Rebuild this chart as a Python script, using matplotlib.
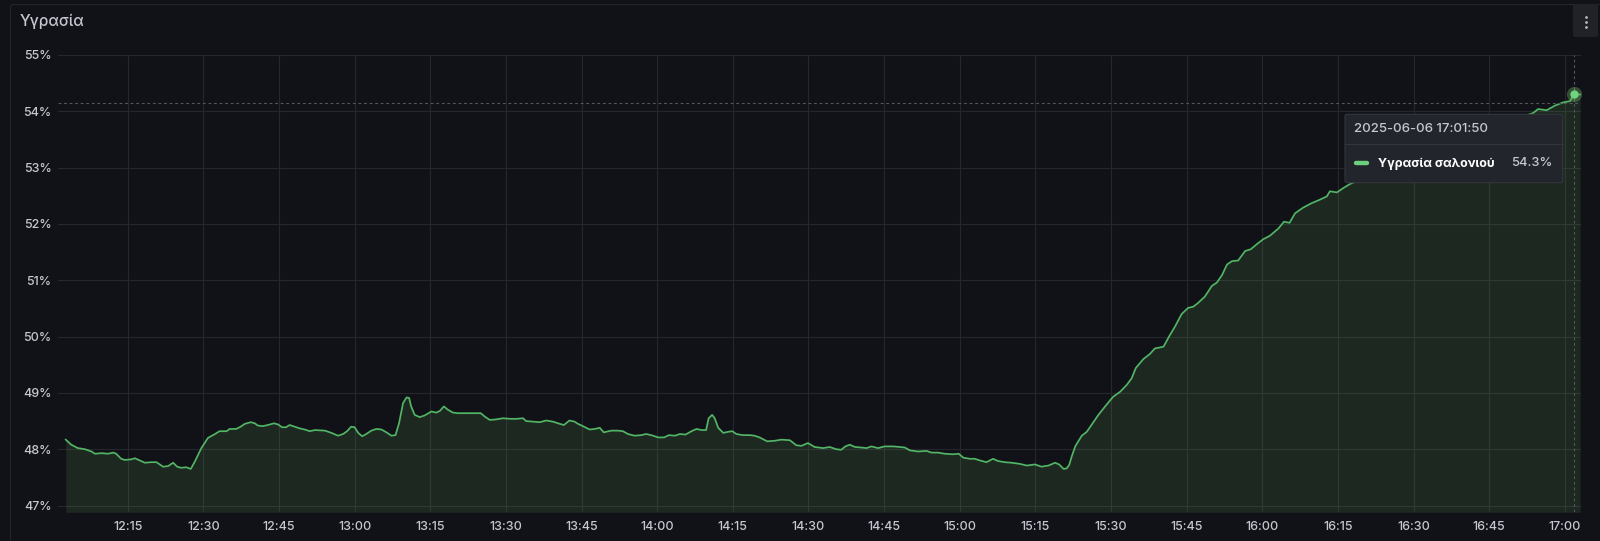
import numpy as np
import pandas as pd
import matplotlib
matplotlib.use("Agg")
import matplotlib.pyplot as plt
import matplotlib.dates as mdates
from matplotlib.ticker import MultipleLocator, FuncFormatter
from matplotlib.patches import FancyBboxPatch

plt.rcParams['font.family'] = ['Inter', 'DejaVu Sans']

# INPUT DATA
panel_title = "Υγρασία"
series_name = "Υγρασία σαλονιού"
day = "2025-06-06"
hover_time = "17:01:50"
hover_value = 54.3
cursor_value = 54.15  # y position of the mouse crosshair

# minutes after 12:00 and relative humidity [%]
minutes = [2.7, 3.8, 5.1, 6.5, 7.8, 8.5, 9.8, 11.1, 12.1, 12.7, 13.7, 14.4, 15.7, 16.4, 17.4, 18.4,
           19.7, 20.7, 22.0, 23.0, 24.0, 24.8, 25.6, 26.6, 27.5, 28.3, 29.6, 30.9, 32.3, 33.2, 34.6,
           35.2, 36.5, 37.4, 38.2, 39.4, 40.2, 40.8, 41.8, 42.8, 44.0, 44.8, 45.6, 46.4, 47.1, 48.1,
           49.1, 50.1, 51.1, 52.1, 54.1, 55.4, 56.7, 57.7, 58.5, 59.3, 60.0, 60.7, 61.5, 62.3, 63.3,
           64.3, 65.3, 66.3, 67.3, 68.1, 68.8, 69.6, 70.3, 70.8, 71.2, 71.9, 72.9, 73.9, 75.2, 76.2,
           76.9, 77.7, 78.5, 79.5, 80.5, 82.5, 83.8, 85.0, 85.8, 86.8, 88.1, 89.4, 90.8, 92.1, 93.4,
           94.0, 95.4, 96.7, 98.0, 99.3, 100.7, 101.5, 102.6, 103.6, 104.3, 104.8, 106.6, 107.6,
           108.6, 109.4, 110.9, 112.2, 113.2, 114.2, 115.5, 116.8, 117.8, 118.8, 120.2, 121.4, 122.3,
           123.5, 124.5, 125.6, 126.8, 127.8, 128.8, 129.7, 130.2, 130.9, 131.4, 132.1, 133.1, 134.1,
           134.9, 135.7, 137.0, 138.4, 139.3, 140.3, 141.8, 143.3, 144.6, 146.3, 147.6, 148.6, 149.9,
           151.2, 152.9, 154.2, 155.5, 156.5, 157.3, 158.2, 159.2, 160.5, 161.5, 162.5, 163.8, 165.1,
           166.8, 168.1, 169.1, 170.1, 171.7, 173.4, 174.4, 175.7, 177.0, 178.7, 179.8, 180.7, 182.0,
           183.0, 184.0, 185.3, 186.6, 187.6, 188.9, 190.3, 191.9, 193.3, 194.9, 196.2, 197.6, 198.9,
           199.7, 200.6, 201.2, 201.7, 202.2, 202.9, 203.3, 204.2, 205.2, 206.2, 207.5, 209.1, 210.4,
           211.8, 213.1, 214.1, 214.9, 216.4, 217.7, 218.7, 220.4, 221.5, 222.7, 224.0, 225.3, 226.3,
           227.3, 228.6, 230.0, 231.0, 232.0, 233.0, 234.0, 235.2, 236.6, 237.7, 238.9, 240.2, 241.5,
           243.2, 244.3, 245.4, 246.5, 248.1, 249.8, 251.4, 252.8, 253.4, 254.8, 256.1, 257.4, 261.0,
           265.0, 269.0, 273.0, 277.0, 282.0, 286.0, 290.0, 293.7, 294.7, 296.4, 298.0, 299.7, 301.0,
           301.83, 303.0]
humidity = [48.17, 48.08, 48.02, 48.00, 47.96, 47.92, 47.93, 47.92, 47.94, 47.92, 47.83, 47.81, 47.82,
            47.84, 47.80, 47.76, 47.77, 47.77, 47.69, 47.70, 47.76, 47.69, 47.67, 47.68, 47.65, 47.78,
            48.02, 48.20, 48.27, 48.32, 48.32, 48.36, 48.36, 48.40, 48.45, 48.48, 48.46, 48.42, 48.41,
            48.43, 48.46, 48.44, 48.39, 48.39, 48.43, 48.40, 48.37, 48.35, 48.32, 48.34, 48.33, 48.29,
            48.24, 48.27, 48.32, 48.40, 48.39, 48.29, 48.23, 48.27, 48.33, 48.36, 48.35, 48.30, 48.24,
            48.25, 48.46, 48.82, 48.92, 48.91, 48.76, 48.61, 48.57, 48.60, 48.67, 48.65, 48.68, 48.76,
            48.70, 48.65, 48.64, 48.64, 48.64, 48.64, 48.58, 48.52, 48.53, 48.55, 48.54, 48.54, 48.55,
            48.50, 48.49, 48.48, 48.51, 48.49, 48.45, 48.43, 48.51, 48.49, 48.45, 48.43, 48.35, 48.36,
            48.38, 48.30, 48.33, 48.33, 48.32, 48.27, 48.24, 48.25, 48.27, 48.25, 48.21, 48.21, 48.25,
            48.24, 48.27, 48.26, 48.32, 48.36, 48.34, 48.34, 48.55, 48.61, 48.55, 48.38, 48.29, 48.31,
            48.32, 48.27, 48.25, 48.25, 48.24, 48.21, 48.14, 48.15, 48.17, 48.16, 48.07, 48.06, 48.11,
            48.04, 48.02, 48.04, 48.00, 47.99, 48.05, 48.08, 48.04, 48.03, 48.02, 48.05, 48.02, 48.05,
            48.05, 48.04, 48.03, 47.98, 47.96, 47.97, 47.94, 47.94, 47.92, 47.91, 47.92, 47.85, 47.83,
            47.83, 47.80, 47.77, 47.83, 47.79, 47.77, 47.76, 47.74, 47.71, 47.73, 47.69, 47.71, 47.76,
            47.73, 47.65, 47.66, 47.72, 47.87, 48.05, 48.11, 48.24, 48.31, 48.44, 48.61, 48.79, 48.93,
            49.02, 49.14, 49.26, 49.44, 49.60, 49.69, 49.79, 49.82, 50.00, 50.18, 50.40, 50.51, 50.53,
            50.60, 50.71, 50.90, 50.96, 51.09, 51.28, 51.34, 51.35, 51.52, 51.55, 51.64, 51.73, 51.79,
            51.92, 52.04, 52.02, 52.19, 52.29, 52.37, 52.43, 52.49, 52.58, 52.56, 52.64, 52.71, 52.85,
            53.00, 53.15, 53.30, 53.42, 53.60, 53.72, 53.85, 53.97, 54.04, 54.02, 54.10, 54.16, 54.18,
            54.30, 54.30]

# time range of the dashboard and y range of the panel
range_start = "12:01:10"
range_end = "17:03:12"
y_min, y_max = 46.88, 55.0

# Colours (Grafana dark theme)
bg = "#111217"
grid_col = "#26272d"
text_col = "#c7c7d1"
line_col = "#52b565"
fill_col = "#73BF69"

W, H = 1600, 541
base = pd.Timestamp(day + " 12:00:00")
times = base + pd.to_timedelta(minutes, unit="min")
t_hover = pd.Timestamp(day + " " + hover_time)

fig = plt.figure(figsize=(W / 100, H / 100), dpi=100, facecolor=bg)
ax = fig.add_axes([58 / W, 1 - 512.3 / H, (1581 - 58) / W, (512.3 - 55) / H])
ax.set_facecolor(bg)

# Series line and area
ax.fill_between(times, humidity, y_min, color=fill_col, alpha=0.13, lw=0, zorder=2)
ax.plot(times, humidity, color=line_col, lw=1.25, zorder=3)

# Crosshair at hover position
ax.axvline(t_hover, color="#55575e", lw=0.8, dashes=(2.5, 2.5), zorder=4)
ax.axhline(cursor_value, color="#55575e", lw=0.8, dashes=(2.5, 2.5), zorder=4)
ax.plot([t_hover], [hover_value], "o", ms=11, color="#73BF69", alpha=0.35, mec="none", zorder=5)
ax.plot([t_hover], [hover_value], "o", ms=6, color="#6fd37e", mec="none", zorder=6)

ax.set_xlim(pd.Timestamp(day + " " + range_start), pd.Timestamp(day + " " + range_end))
ax.set_ylim(y_min, y_max)
ax.xaxis.set_major_locator(mdates.MinuteLocator(byminute=[0, 15, 30, 45]))
ax.xaxis.set_major_formatter(mdates.DateFormatter("%H:%M"))
ax.yaxis.set_major_locator(MultipleLocator(1))
ax.yaxis.set_major_formatter(FuncFormatter(lambda v, p: "%d%%" % round(v)))
ax.tick_params(axis="both", length=0, labelsize=9, colors=text_col)
ax.tick_params(axis="y", pad=4.5)
ax.tick_params(axis="x", pad=6.5)
for lab in ax.get_xticklabels() + ax.get_yticklabels():
    lab.set_fontweight("medium")
ax.grid(True, color=grid_col, lw=0.8)
for s in ax.spines.values():
    s.set_visible(False)

# Overlay in pixel coordinates for panel chrome and tooltip
ov = fig.add_axes([0, 0, 1, 1], zorder=10)
ov.set_xlim(0, W)
ov.set_ylim(H, 0)
ov.axis("off")

ov.add_patch(FancyBboxPatch((10.5, 4.5), 1620, 600, boxstyle="round,pad=0,rounding_size=3",
                            fc="none", ec="#24252b", lw=0.8))
ov.text(20, 21, panel_title, fontsize=11.2, color=text_col, fontweight="medium", va="center", ha="left")

# menu button
ov.add_patch(FancyBboxPatch((1573, 4), 25, 33, boxstyle="round,pad=0,rounding_size=2",
                            fc="#202227", ec="none"))
ov.plot([1585.5] * 3, [16.5, 21.5, 26.5], "o", ms=2, color="#b8b8c2", mec="none")

# tooltip
ov.add_patch(FancyBboxPatch((1345, 114.3), 217.7, 68.4, boxstyle="round,pad=0,rounding_size=2",
                            fc="#22252b", ec="#34363d", lw=0.8))
ov.plot([1345, 1562.7], [144.3, 144.3], color="#34363d", lw=0.8)
ov.text(1354, 129.5, day + " " + hover_time, fontsize=9.6, color=text_col, fontweight="medium",
        va="center", ha="left")
ov.plot([1356, 1367], [163.3, 163.3], color="#6ccf7e", lw=3.2, solid_capstyle="round")
ov.text(1378, 163.5, series_name, fontsize=9, color="#ffffff", fontweight="bold", va="center", ha="left")
ov.text(1552.7, 163.5, "%.1f%%" % hover_value, fontsize=9.3, color=text_col, fontweight="medium",
        va="center", ha="right")

fig.savefig("out.png", dpi=100, facecolor=bg)
